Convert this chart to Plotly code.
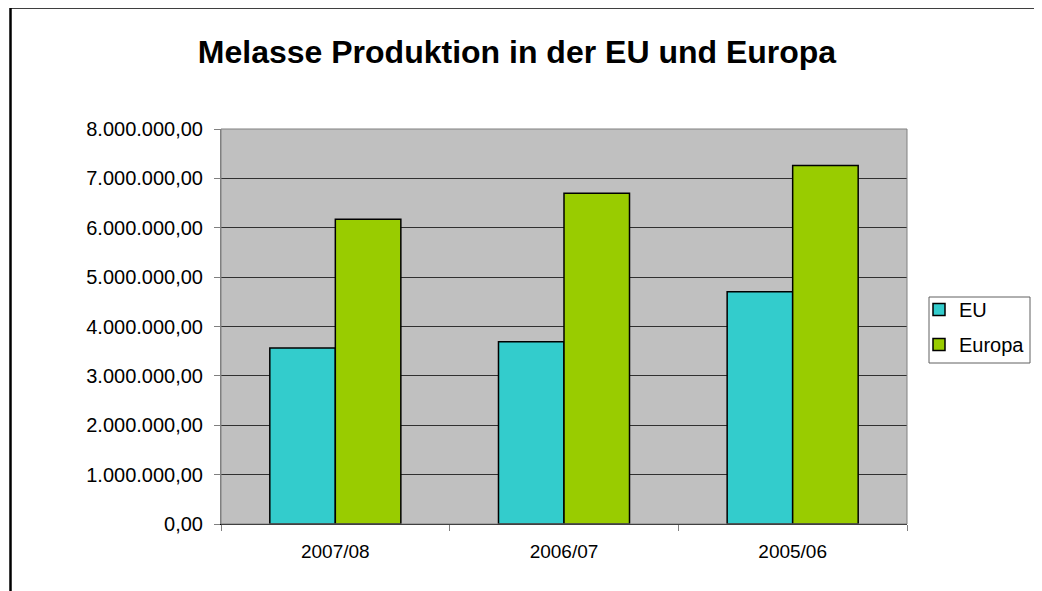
import plotly.graph_objects as go

categories = ["2007/08", "2006/07", "2005/06"]
eu_values = [3563000, 3692000, 4706000]
europa_values = [6173000, 6700000, 7262000]
series_names = ["EU", "Europa"]
title_text = "Melasse Produktion in der EU und Europa"

# page offset caused by the default body margin of the html page
OFF = 8
PAGE_W, PAGE_H = 1042, 591
W, H = PAGE_W - OFF, PAGE_H - OFF
# plot area in page pixels
L, R, T, B = 221, 907, 129, 524
pw, ph = R - L, B - T

def px_x(p):
    return (p - L) / pw

def px_y(p):
    return (B - p) / ph

fig = go.Figure()
fig.add_trace(go.Bar(x=categories, y=eu_values, name=series_names[0],
                     marker=dict(color="#33CCCC", line=dict(color="black", width=1.5)),
                     legendgroup="a"))
fig.add_trace(go.Bar(x=categories, y=europa_values, name=series_names[1],
                     marker=dict(color="#99CC00", line=dict(color="black", width=1.5)),
                     legendgroup="b"))

font = "Liberation Sans, Arial, sans-serif"
fig.update_layout(
    width=W, height=H,
    margin=dict(l=L - OFF, r=PAGE_W - R, t=T - OFF, b=PAGE_H - B, pad=0),
    paper_bgcolor="white",
    plot_bgcolor="#C0C0C0",
    separators=",.",
    barmode="group",
    bargap=0.427,
    bargroupgap=0,
    font=dict(family=font, size=19, color="black"),
    title=dict(text="<b>" + title_text + "</b>", x=(517 - OFF) / W, xanchor="center",
               y=1 - (52 - OFF) / H, yanchor="middle",
               font=dict(family=font, size=32, color="black")),
    legend=dict(x=px_x(919), xanchor="left", y=px_y(327), yanchor="middle",
                borderwidth=0, bgcolor="rgba(0,0,0,0)",
                font=dict(family=font, size=20), traceorder="grouped",
                tracegroupgap=6, itemwidth=30),
    showlegend=True,
    xaxis=dict(type="category", tickson="boundaries", ticks="outside", ticklen=6,
               tickcolor="#808080", showline=True, linecolor="black", linewidth=1,
               showgrid=False, tickfont=dict(size=19), ticklabelstandoff=10),
    yaxis=dict(range=[0, 8000000], dtick=1000000, tickformat=",.2f",
               ticks="outside", ticklen=6, tickcolor="#808080",
               showline=True, linecolor="#808080", linewidth=1,
               showgrid=True, gridcolor="#303030", gridwidth=1,
               zeroline=False, tickfont=dict(size=20), ticklabelstandoff=7),
)

# plot area frame
fig.add_shape(type="rect", xref="paper", yref="paper", x0=0, x1=1, y0=0, y1=1,
              line=dict(color="#808080", width=1), layer="above")
# legend box
fig.add_shape(type="rect", xref="paper", yref="paper",
              x0=px_x(929), x1=px_x(1030), y0=px_y(363), y1=px_y(297),
              line=dict(color="#606060", width=1), fillcolor="white", layer="below")
# chart outer border
fig.add_shape(type="rect", xref="paper", yref="paper",
              x0=px_x(10.5), x1=px_x(1039), y0=px_y(620), y1=px_y(7.5),
              line=dict(color="black", width=2.5), layer="above")

fig.write_html("out.html")
